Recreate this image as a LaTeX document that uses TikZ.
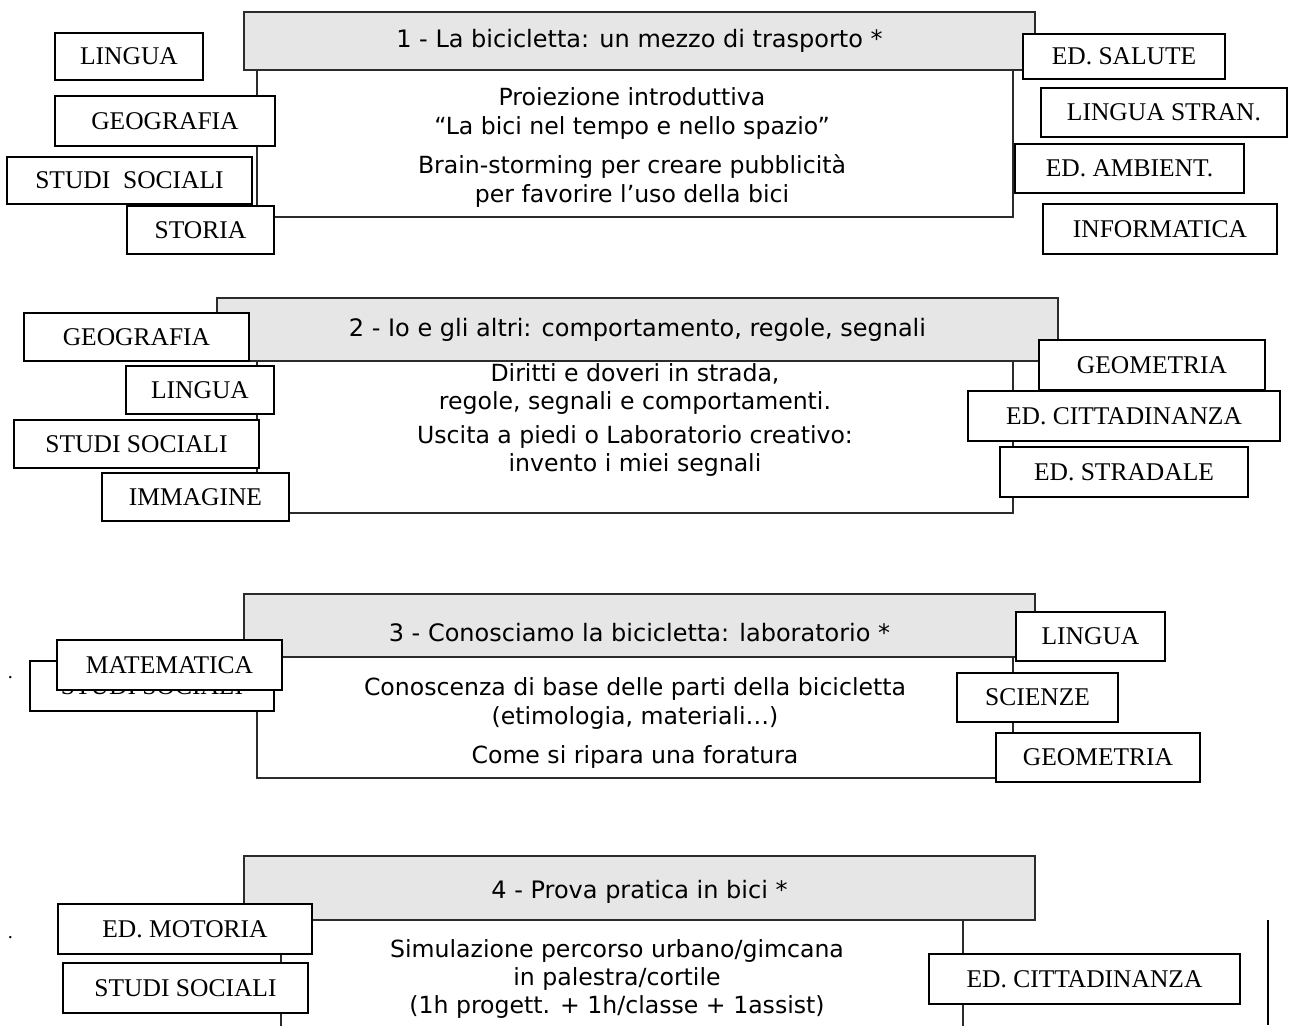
\documentclass[tikz,border=0pt]{standalone}
\usepackage{fontspec}
\setmainfont{DejaVu Sans}
\newfontfamily\labfont{Liberation Serif}
\definecolor{headgray}{HTML}{E6E6E6}
\definecolor{edge}{HTML}{2B2B2B}
\tikzset{
  head/.style={draw=edge, fill=headgray, line width=1.3pt, inner sep=0pt,
    font=\fontsize{24}{29}\selectfont},
  bodybox/.style={draw=edge, line width=1.3pt},
  bodytext/.style={anchor=north, inner sep=0pt, align=center,
    font=\fontsize{23.6}{29}\selectfont},
  subj/.style={draw=black, fill=white, line width=1.8pt, inner sep=0pt,
    font=\labfont\fontsize{25.5}{26}\selectfont},
  stray/.style={inner sep=0pt, font=\labfont\itshape\fontsize{20}{20}\selectfont}
}
\begin{document}
\begin{tikzpicture}[x=1pt,y=-1pt]
	\useasboundingbox (0,0) rectangle (1289,1025);
	% 1
	\draw[bodybox] (257,70) rectangle (1013,217);
	\node[head, minimum width=791pt, minimum height=58pt] (h1) at (639.5,41) {1 - La bicicletta: un mezzo di trasporto *};
	\node[bodytext] (t1) at (632,87) {Proiezione introduttiva\\ ``La bici nel tempo e nello spazio''\\[10pt] Brain-storming per creare pubblicità\\ per favorire l’uso della bici};
	\node[subj, minimum width=148pt, minimum height=47pt] (lingua1) at (129,56.5) {LINGUA};
	\node[subj, minimum width=220pt, minimum height=50pt] (geografia1) at (165,121) {GEOGRAFIA};
	\node[subj, minimum width=245pt, minimum height=47pt] (studi1) at (129.5,180.5) {STUDI\ \ SOCIALI};
	\node[subj, minimum width=147pt, minimum height=48pt] (storia1) at (200.5,230) {STORIA};
	\node[subj, minimum width=202pt, minimum height=45pt] (salute1) at (1124,56.5) {ED. SALUTE};
	\node[subj, minimum width=246pt, minimum height=49pt] (stran1) at (1164,112.5) {LINGUA STRAN.};
	\node[subj, minimum width=229pt, minimum height=49pt] (ambient1) at (1129.5,168.5) {ED. AMBIENT.};
	\node[subj, minimum width=234pt, minimum height=50pt] (informatica1) at (1160,229) {INFORMATICA};
	% 2
	\draw[bodybox] (257,361) rectangle (1013,513);
	\node[head, minimum width=841pt, minimum height=63pt] (h2) at (637.5,329.5) {2 - Io e gli altri: comportamento, regole, segnali};
	\node[bodytext, font=\fontsize{23.6}{28}\selectfont] (t2) at (635,363) {Diritti e doveri in strada,\\ regole, segnali e comportamenti.\\[6pt] Uscita a piedi o Laboratorio creativo:\\ invento i miei segnali};
	\node[subj, minimum width=225pt, minimum height=48pt] (geografia2) at (136.5,337) {GEOGRAFIA};
	\node[subj, minimum width=148pt, minimum height=48pt] (lingua2) at (200,390) {LINGUA};
	\node[subj, minimum width=245pt, minimum height=48pt] (studi2) at (136.5,444) {STUDI SOCIALI};
	\node[subj, minimum width=187pt, minimum height=48pt] (immagine2) at (195.5,497) {IMMAGINE};
	\node[subj, minimum width=226pt, minimum height=50pt] (geometria2) at (1152,365) {GEOMETRIA};
	\node[subj, minimum width=312pt, minimum height=50pt] (cittad2) at (1124,416) {ED. CITTADINANZA};
	\node[subj, minimum width=248pt, minimum height=50pt] (stradale2) at (1124,472) {ED. STRADALE};
	% 3
	\draw[bodybox] (257,657) rectangle (1013,778);
	\node[head, minimum width=791pt, minimum height=63pt] (h3) at (639.5,625.5) {\raisebox{-7pt}[\height][\depth]{3 - Conosciamo la bicicletta: laboratorio *}};
	\node[bodytext] (t3) at (635,677) {Conoscenza di base delle parti della bicicletta\\ (etimologia, materiali…)\\[10pt] Come si ripara una foratura};
	\node[stray] (dot3) at (11,678) {.};
	\node[subj, minimum width=244pt, minimum height=50pt] (studi3) at (152,686) {STUDI SOCIALI};
	\node[subj, minimum width=225pt, minimum height=50pt] (matematica3) at (169.5,665) {MATEMATICA};
	\node[subj, minimum width=149pt, minimum height=49pt] (lingua3) at (1090.5,636.5) {LINGUA};
	\node[subj, minimum width=161pt, minimum height=49pt] (scienze3) at (1037.5,697.5) {SCIENZE};
	\node[subj, minimum width=204pt, minimum height=49pt] (geometria3) at (1098,757.5) {GEOMETRIA};
	% 4
	\draw[bodybox] (281,920) rectangle (963,1060);
	\node[head, minimum width=791pt, minimum height=64pt] (h4) at (639.5,888) {\raisebox{-4pt}[\height][\depth]{4 - Prova pratica in bici *}};
	\node[bodytext, font=\fontsize{23.6}{28}\selectfont] (t4) at (617,939) {Simulazione percorso urbano/gimcana\\ in palestra/cortile\\ (1h progett. + 1h/classe + 1assist)};
	\coordinate (edgetop) at (1268,920);
	\coordinate (edgebot) at (1268,1025);
	\draw[line width=1.8pt] (edgetop) -- (edgebot);
	\node[stray] (dot4) at (11,938) {.};
	\node[subj, minimum width=254pt, minimum height=50pt] (motoria4) at (185,929) {ED. MOTORIA};
	\node[subj, minimum width=245pt, minimum height=50pt] (studi4) at (185.5,988) {STUDI SOCIALI};
	\node[subj, minimum width=311pt, minimum height=50pt] (cittad4) at (1084.5,979) {ED. CITTADINANZA};
\end{tikzpicture}
\end{document}
